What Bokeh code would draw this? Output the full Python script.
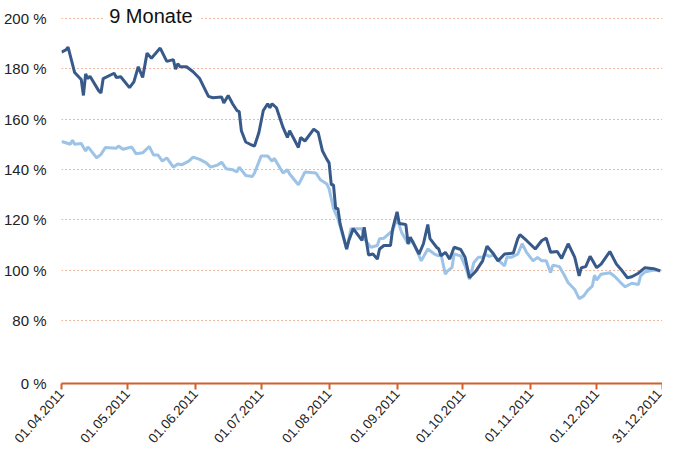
from datetime import date
from bokeh.plotting import figure
from bokeh.models import FixedTicker, Label, Range1d
from bokeh.embed import file_html
from bokeh.resources import INLINE

# ---- data (day offsets from 01.04.2011, values in %) ----
dark_days = [0, 2, 3, 6, 9, 10, 11, 12, 13, 17, 18, 19, 24, 25, 27, 31, 33, 35, 37, 39, 41, 45, 48, 51, 52,
             53, 54, 57, 60, 63, 67, 69, 73, 74, 76, 78, 80, 81, 82, 84, 86, 88, 90, 92, 94, 95, 96, 98, 101,
             103, 104, 108, 109, 111, 115, 117, 119, 121, 122, 123, 124, 125, 126, 127, 130, 131, 133, 137,
             138, 140, 142, 144, 145, 147, 150, 151, 153, 154, 157, 158, 159, 163, 165, 167, 168, 171, 172,
             173, 175, 177, 179, 182, 184, 186, 189, 192, 194, 197, 199, 202, 206, 208, 209, 212, 216, 219,
             221, 223, 226, 228, 231, 234, 236, 237, 239, 241, 244, 246, 250, 253, 255, 258, 260, 263, 266,
             270, 273]
dark_vals = [186.6, 187.5, 188.6, 178.5, 175.7, 169.4, 177.9, 176.1, 177.0, 171.2, 170.4, 176.1, 178.2, 176.5,
             176.8, 172.5, 174.8, 180.8, 176.5, 186.2, 184.2, 188.2, 182.9, 183.6, 179.8, 182.0, 180.8, 180.8,
             178.8, 176.1, 169.0, 168.5, 168.8, 166.4, 169.4, 166.1, 163.4, 163.0, 155.4, 150.9, 150.0, 149.3,
             154.7, 163.4, 166.1, 164.5, 166.1, 164.5, 156.7, 152.7, 155.4, 148.7, 152.7, 151.3, 156.0, 154.7,
             147.3, 144.0, 142.6, 133.9, 133.9, 124.5, 124.5, 118.5, 108.4, 111.8, 116.5, 111.8, 117.1, 106.0,
             106.4, 104.4, 108.4, 109.8, 109.8, 116.5, 123.2, 118.5, 118.1, 110.5, 113.1, 106.4, 110.5, 118.1,
             112.5, 109.1, 108.4, 105.7, 107.1, 104.4, 109.1, 108.2, 105.1, 97.0, 99.7, 103.7, 109.5, 106.4,
             103.7, 106.4, 106.8, 112.5, 114.1, 111.8, 108.4, 111.8, 112.7, 107.1, 107.4, 104.7, 110.5, 105.1,
             97.7, 101.0, 101.4, 105.5, 101.0, 102.4, 107.4, 102.4, 100.4, 97.0, 97.4, 98.8, 101.0, 100.6, 99.7]

light_days = [0, 2, 4, 5, 6, 9, 11, 12, 13, 16, 18, 20, 25, 26, 28, 32, 34, 37, 40, 42, 44, 46, 48, 51, 53,
              55, 58, 60, 63, 66, 68, 71, 73, 75, 78, 80, 81, 84, 87, 88, 91, 94, 96, 97, 101, 103, 104, 108,
              111, 116, 118, 121, 122, 124, 126, 130, 132, 137, 138, 141, 144, 145, 147, 151, 153, 155, 158,
              160, 164, 167, 170, 172, 173, 175, 176, 178, 179, 182, 184, 186, 188, 190, 192, 193, 195, 197,
              199, 202, 203, 205, 208, 210, 212, 215, 217, 219, 221, 223, 224, 227, 229, 231, 234, 236, 238,
              240, 242, 243, 244, 246, 250, 252, 255, 257, 260, 263, 264, 266, 270, 273]
light_vals = [151.1, 150.6, 150.0, 151.6, 150.0, 150.3, 147.3, 148.9, 148.0, 144.6, 146.0, 148.7, 148.4, 149.3,
              148.0, 148.9, 146.2, 146.6, 149.1, 145.7, 145.7, 143.3, 144.6, 140.9, 142.2, 141.9, 143.3, 144.9,
              144.0, 142.6, 140.9, 141.7, 142.9, 140.3, 139.9, 139.0, 140.9, 137.6, 137.2, 138.6, 145.3, 145.3,
              143.3, 144.4, 138.6, 139.9, 138.2, 133.9, 139.0, 138.6, 135.9, 134.2, 132.3, 124.5, 120.5, 108.4,
              116.5, 116.5, 112.5, 109.1, 109.8, 112.5, 112.7, 115.8, 120.5, 115.1, 110.5, 111.8, 103.7, 108.4,
              106.4, 105.7, 106.4, 98.4, 99.7, 101.0, 106.4, 105.7, 101.7, 96.4, 103.0, 105.1, 105.1, 106.4,
              105.5, 106.0, 104.1, 101.7, 105.1, 105.1, 106.4, 110.5, 107.1, 103.7, 105.1, 103.7, 103.7, 99.0,
              102.0, 101.4, 98.4, 95.0, 92.3, 88.7, 89.7, 92.1, 93.7, 98.0, 96.1, 98.4, 99.0, 97.7, 95.0, 93.4,
              94.8, 94.3, 97.7, 99.3, 100.1, 99.7]

tick_labels = ["01.04.2011", "01.05.2011", "01.06.2011", "01.07.2011", "01.08.2011",
               "01.09.2011", "01.10.2011", "01.11.2011", "01.12.2011", "31.12.2011"]
y_ticks = [55, 80, 100, 120, 140, 160, 180, 200]
y_labels = ["0 %", "80 %", "100 %", "120 %", "140 %", "160 %", "180 %", "200 %"]
title_text = "9 Monate"

start = date(2011, 4, 1)
def to_day(s):
    d, m, y = s.split(".")
    return (date(int(y), int(m), int(d)) - start).days
x_ticks = [to_day(s) for s in tick_labels]

p = figure(width=662, height=450, output_backend="svg", toolbar_location=None,
           x_range=Range1d(0, x_ticks[-1]), y_range=Range1d(55, 206.3),
           min_border_left=55, min_border_right=0, min_border_top=2, min_border_bottom=66)
p.outline_line_color = None
p.background_fill_color = "white"
p.border_fill_color = "white"

p.line(light_days, light_vals, line_color="#9dc3e6", line_width=3)
p.line(dark_days, dark_vals, line_color="#385a8b", line_width=3)

# x axis
xa = p.xaxis[0]
xa.ticker = FixedTicker(ticks=x_ticks)
xa.major_label_overrides = {t: l for t, l in zip(x_ticks, tick_labels)}
xa.major_label_orientation = 0.84
xa.major_label_text_font = "Liberation Sans"
xa.major_label_text_font_size = "13.5px"
xa.major_label_text_color = "#222222"
xa.axis_line_color = "#d0602c"
xa.axis_line_width = 2
xa.major_tick_line_color = "#d0602c"
xa.major_tick_line_width = 2
xa.major_tick_in = 0
xa.major_tick_out = 6
xa.minor_tick_line_color = None
xa.major_label_standoff = 2

# y axis
ya = p.yaxis[0]
ya.ticker = FixedTicker(ticks=y_ticks)
ya.major_label_overrides = {t: l for t, l in zip(y_ticks, y_labels)}
ya.major_label_text_font = "Liberation Sans"
ya.major_label_text_font_size = "15px"
ya.major_label_text_color = "#222222"
ya.axis_line_color = None
ya.major_tick_line_color = None
ya.minor_tick_line_color = None
ya.major_label_standoff = 9

p.xgrid.grid_line_color = None
p.ygrid.ticker = FixedTicker(ticks=y_ticks[1:])
p.ygrid.grid_line_color = "#e07040"
p.ygrid.grid_line_dash = "1 3"
p.ygrid.grid_line_width = 1.2

lbl = Label(x=19, y=200.8, text=title_text, text_font="Liberation Sans", text_font_size="20px",
            text_color="#111111", text_baseline="middle", background_fill_color="white",
            padding=6)
p.add_layout(lbl)

open("out.html", "w").write(file_html(p, INLINE))
